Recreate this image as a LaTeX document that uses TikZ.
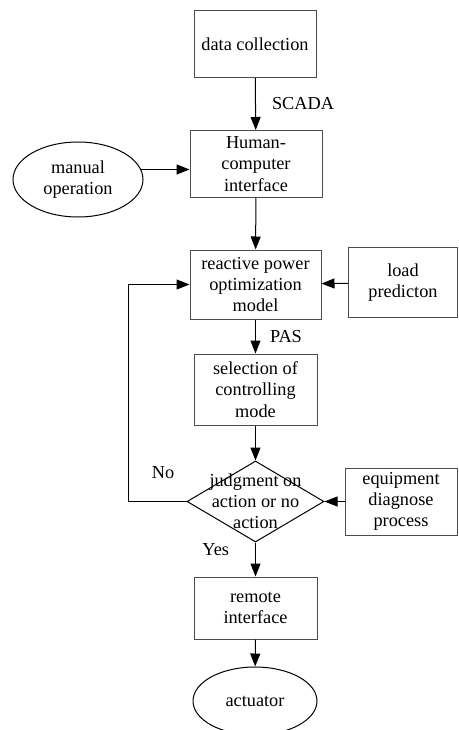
\documentclass[tikz,border=0pt]{standalone}
\usepackage{fontspec}
\setmainfont{Liberation Serif}
\usepackage{tikz}
\usetikzlibrary{shapes.geometric,arrows.meta}
\tikzstyle{block} = [draw=black!70, rectangle, align=center, inner sep=0pt]
\tikzstyle{term} = [draw, ellipse, align=center, inner sep=0pt]
\tikzstyle{decision} = [draw, diamond, inner sep=0pt, minimum width=137pt, minimum height=81pt]
\tikzstyle{tag} = [inner sep=0pt]

\begin{document}
\begin{tikzpicture}[x=1pt, y=-1pt, line width=1pt, >={Triangle[length=13pt,width=10pt]},
		font=\fontsize{18.3}{21.2}\selectfont]
		\useasboundingbox (0,0) rectangle (458,730);
		\clip (0,0) rectangle (458,730);
		\node [block, minimum width=122pt, minimum height=67pt] (data) at (255,44) {data collection};
		\node [block, minimum width=132pt, minimum height=67pt] (hci) at (256,164) {Human-\\computer\\interface};
		\node [term, minimum width=130pt, minimum height=75pt] (manual) at (78,179.5) {manual\\operation};
		\node [block, minimum width=131pt, minimum height=69pt] (model) at (255.5,284.5) {reactive power\\optimization\\model};
		\node [block, minimum width=109pt, minimum height=70pt] (load) at (403,282.5) {load\\predicton};
		\node [block, minimum width=123pt, minimum height=71pt] (mode) at (255.5,389.5) {selection of\\controlling\\mode};
		\node [decision] (judge) at (255.5,501.5) {};
		\node [tag, align=center] (judgetext) at (judge) {judgment on\\action or no\\action};
		\node [block, minimum width=112pt, minimum height=67pt] (equip) at (401,501.5) {equipment\\diagnose\\process};
		\node [block, minimum width=123pt, minimum height=62pt] (remote) at (255.5,608) {remote\\interface};
		\node [term, minimum width=124pt, minimum height=68pt] (actuator) at (255,701) {actuator};
		\coordinate (bend) at (128,501.5);

		\draw [->] (data) -- node[tag, right=16pt]{SCADA} (hci);
		\draw [->] (manual.9) -- (manual.9 -| hci.west);
		\draw [->] (hci) -- (model);
		\draw [->] (load) -- (model);
		\draw [->] (model) -- node[tag, right=14pt]{PAS} (mode);
		\draw [->] (mode) -- (judge);
		\draw [->] (equip) -- (judge);
		\draw [->] (judge.west) -- node[tag, pos=0.4, above=22pt]{No} (bend) |- (model.west);
		\draw [->] (judge) -- node[tag, pos=0.2, left=26pt]{Yes} (remote);
		\draw [->] (remote) -- (actuator);
	\end{tikzpicture}
\end{document}
